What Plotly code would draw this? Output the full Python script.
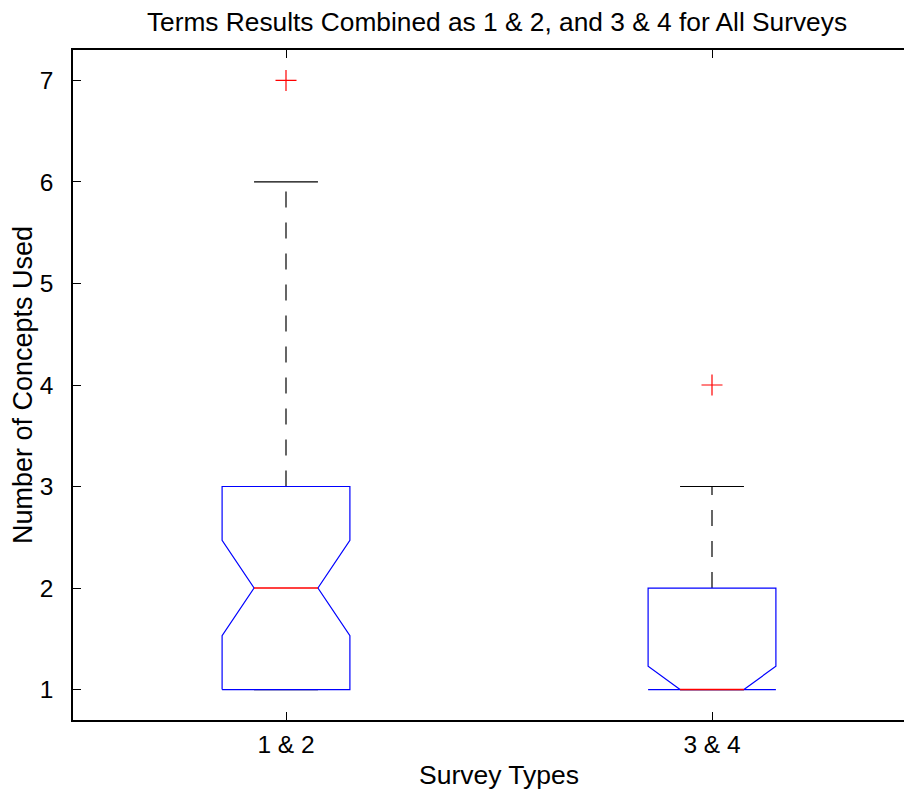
import plotly.graph_objects as go

# ---- data ----
groups = ["1 & 2", "3 & 4"]
positions = [1, 2]
q1 = [1, 1]
median = [2, 1]
q3 = [3, 2]
notch_lo = [1.53, 1.0]
notch_hi = [2.47, 1.23]
whisker_lo = [1, 1]
whisker_hi = [6, 3]
outliers = [[7], [4]]
y_ticks = [1, 2, 3, 4, 5, 6, 7]

BOX_W = 0.15
NOTCH_W = 0.075
CAP_W = 0.075
FONT = "Liberation Sans, Arial, Helvetica, sans-serif"

# page body has an 8px default margin; figure is sized to fill the rest
W, H = 904, 784

fig = go.Figure()

for i, c in enumerate(positions):
    # whiskers (dashed)
    fig.add_trace(go.Scatter(x=[c, c], y=[q3[i], whisker_hi[i]], mode="lines",
                             line=dict(color="black", width=1.2, dash="16px,15px"),
                             hoverinfo="skip", showlegend=False))
    fig.add_trace(go.Scatter(x=[c, c], y=[q1[i], whisker_lo[i]], mode="lines",
                             line=dict(color="black", width=1.2, dash="16px,15px"),
                             hoverinfo="skip", showlegend=False))
    # caps
    for wv in (whisker_hi[i], whisker_lo[i]):
        fig.add_trace(go.Scatter(x=[c - CAP_W, c + CAP_W], y=[wv, wv], mode="lines",
                                 line=dict(color="black", width=1.2),
                                 hoverinfo="skip", showlegend=False))
    # notched box
    bx = [c - BOX_W, c - BOX_W, c - NOTCH_W, c - BOX_W, c - BOX_W,
          c + BOX_W, c + BOX_W, c + NOTCH_W, c + BOX_W, c + BOX_W, c - BOX_W]
    by = [q1[i], notch_lo[i], median[i], notch_hi[i], q3[i],
          q3[i], notch_hi[i], median[i], notch_lo[i], q1[i], q1[i]]
    fig.add_trace(go.Scatter(x=bx, y=by, mode="lines",
                             line=dict(color="#0000ff", width=1.2),
                             hoverinfo="skip", showlegend=False))
    # median
    fig.add_trace(go.Scatter(x=[c - NOTCH_W, c + NOTCH_W], y=[median[i], median[i]],
                             mode="lines", line=dict(color="#ff0000", width=1.4),
                             hoverinfo="skip", showlegend=False))
    # outliers
    fig.add_trace(go.Scatter(x=[c] * len(outliers[i]), y=outliers[i], mode="markers",
                             marker=dict(symbol="cross-thin", size=15,
                                         line=dict(color="#ff0000", width=1.2)),
                             showlegend=False))

fig.update_layout(
    width=W, height=H,
    margin=dict(l=65, r=0, t=42, b=72, pad=0),
    paper_bgcolor="white", plot_bgcolor="white",
    font=dict(family=FONT, size=24.5, color="black"),
    title=dict(text="Terms Results Combined as 1 & 2, and 3 & 4 for All Surveys",
               x=489 / W, xref="container", xanchor="center",
               y=1 - 14 / H, yref="container", yanchor="middle",
               font=dict(family=FONT, size=26.3, color="black")),
    showlegend=False,
    annotations=[dict(text="Survey Types", x=1.5, xref="x", xanchor="center",
                      y=-(767 - 712) / 670, yref="paper", yanchor="middle",
                      showarrow=False, font=dict(family=FONT, size=26.5, color="black"))],
)
fig.update_xaxes(
    range=[0.5, 0.5 + 839 / 426],
    tickmode="array", tickvals=positions, ticktext=groups,
    ticks="inside", ticklen=8, tickcolor="black", tickwidth=1,
    ticklabelstandoff=2,
    showline=True, linecolor="black", linewidth=1.5, mirror="ticks",
    showgrid=False, zeroline=False, automargin=False,
)
fig.update_yaxes(
    range=[0.7, 7.3],
    tickmode="array", tickvals=y_ticks, ticktext=[str(v) for v in y_ticks],
    ticks="inside", ticklen=8, tickcolor="black", tickwidth=1,
    ticklabelstandoff=13,
    showline=True, linecolor="black", linewidth=1.5, mirror=False,
    showgrid=False, zeroline=False, automargin=False,
    title=dict(text="Number of Concepts Used", standoff=7, font=dict(size=27)),
)

fig.write_html("out.html")
